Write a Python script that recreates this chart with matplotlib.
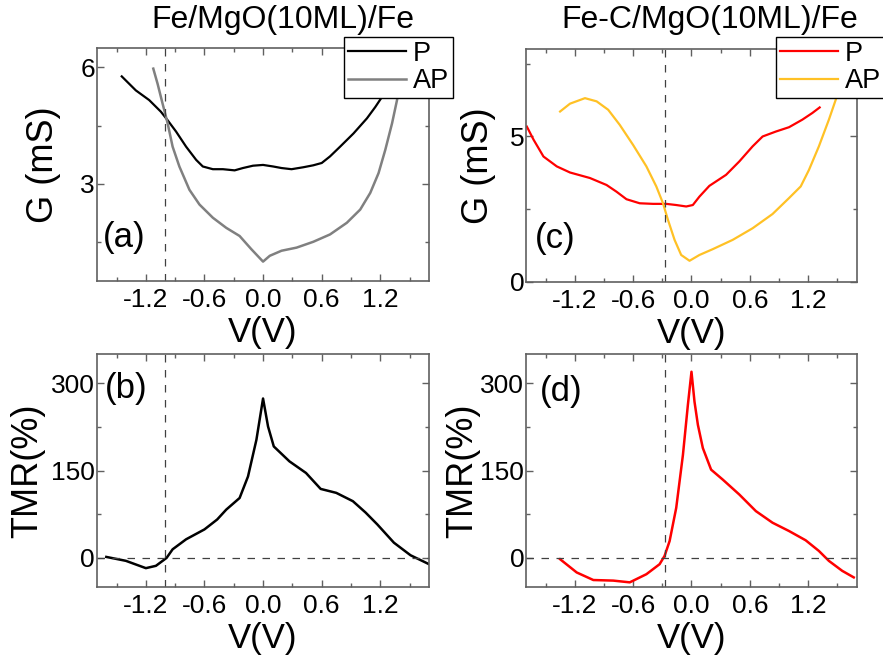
import numpy as np
import matplotlib
matplotlib.use("Agg")
import matplotlib.pyplot as plt

plt.rcParams['font.family'] = ['Liberation Sans', 'DejaVu Sans']
plt.rcParams['axes.unicode_minus'] = False

# (a) Fe/MgO(10ML)/Fe conductance
v_a_p = [-1.447, -1.371, -1.303, -1.166, -1.046, -0.977, -0.891, -0.788, -0.685, -0.617, -0.514,
         -0.411, -0.291, -0.206, -0.103, 0.0, 0.103, 0.189, 0.292, 0.412, 0.514, 0.601, 0.686,
         0.789, 0.926, 1.064, 1.149, 1.218, 1.30, 1.38, 1.46]
g_a_p = [5.77, 5.58, 5.41, 5.16, 4.86, 4.64, 4.35, 3.96, 3.62, 3.45, 3.38,
         3.38, 3.35, 3.41, 3.47, 3.49, 3.45, 3.41, 3.38, 3.43, 3.48, 3.54, 3.71,
         3.96, 4.30, 4.69, 4.98, 5.24, 5.65, 6.1, 6.6]
v_a_ap = [-1.124, -1.080, -1.029, -0.977, -0.926, -0.857, -0.754, -0.651, -0.514, -0.377, -0.240,
          -0.120, 0.0, 0.069, 0.189, 0.343, 0.514, 0.686, 0.858, 0.995, 1.098, 1.183, 1.252,
          1.321, 1.372, 1.42, 1.47]
g_a_ap = [5.97, 5.58, 5.07, 4.56, 3.96, 3.45, 2.85, 2.47, 2.13, 1.87, 1.66,
          1.32, 1.00, 1.15, 1.28, 1.36, 1.51, 1.70, 2.00, 2.34, 2.77, 3.28, 3.88,
          4.56, 5.16, 5.9, 6.7]

# (b) TMR
v_b = [-1.605, -1.405, -1.2, -1.097, -0.988, -0.926, -0.788, -0.6, -0.47, -0.377, -0.24, -0.154,
       -0.068, 0.0, 0.051, 0.11, 0.27, 0.44, 0.59, 0.75, 0.92, 1.05, 1.17, 1.34, 1.51, 1.7]
tmr_b = [1.7, -5, -17.6, -13.6, 0, 14.8, 32, 49, 66, 83, 103, 140,
         203, 274, 226, 191.6, 166, 146, 118.6, 111.8, 97.5, 78, 57.6, 26.2, 4.6, -10.8]

# (c) Fe-C/MgO(10ML)/Fe conductance
v_c_p = [-1.694, -1.625, -1.523, -1.386, -1.250, -1.045, -0.874, -0.772, -0.669, -0.533, -0.395,
         -0.259, -0.157, -0.054, 0.014, 0.082, 0.184, 0.356, 0.492, 0.629, 0.732, 0.868, 1.004,
         1.141, 1.244, 1.319]
g_c_p = [5.34, 4.89, 4.31, 3.97, 3.76, 3.57, 3.33, 3.10, 2.84, 2.70, 2.68,
         2.68, 2.64, 2.59, 2.64, 2.93, 3.30, 3.68, 4.14, 4.66, 5.00, 5.17, 5.32,
         5.58, 5.81, 6.00]
v_c_ap = [-1.352, -1.250, -1.096, -0.976, -0.857, -0.738, -0.601, -0.464, -0.362, -0.293, -0.242,
          -0.174, -0.106, -0.020, 0.082, 0.219, 0.424, 0.629, 0.834, 1.004, 1.124, 1.209, 1.311,
          1.414, 1.490, 1.55, 1.62]
g_c_ap = [5.86, 6.13, 6.32, 6.21, 5.92, 5.40, 4.71, 3.97, 3.28, 2.70, 2.13,
          1.44, 0.92, 0.72, 0.92, 1.12, 1.44, 1.84, 2.33, 2.88, 3.28, 3.85, 4.66,
          5.58, 6.32, 7.2, 8.3]

# (d) TMR
v_d = [-1.352, -1.181, -1.010, -0.805, -0.635, -0.464, -0.328, -0.277, -0.225, -0.157, -0.088,
       -0.037, 0.0, 0.031, 0.066, 0.117, 0.202, 0.322, 0.492, 0.663, 0.834, 1.004, 1.175, 1.311,
       1.414, 1.551, 1.670]
tmr_d = [-2.2, -25, -38, -39, -42, -28, -10.8, 3.4, 29, 86, 177,
         263, 320, 268.6, 228.7, 188.8, 151.7, 134.6, 109, 80.4, 60.5, 46.2, 30.3, 12,
         -5.1, -22.2, -33.5]

v_cross_ab = -1.0
v_cross_cd = -0.27

fig = plt.figure(figsize=(8.83, 6.6), dpi=100)
ax_a = fig.add_axes([0.1099, 0.5742, 0.376, 0.353])
ax_b = fig.add_axes([0.1099, 0.1106, 0.376, 0.3526])
ax_c = fig.add_axes([0.596, 0.5732, 0.3742, 0.352])
ax_d = fig.add_axes([0.596, 0.1106, 0.3742, 0.3526])

spine_col = '#606060'
dash_col = '#404040'

ax_a.plot(v_a_p, g_a_p, color='black', lw=1.6, label='P')
ax_a.plot(v_a_ap, g_a_ap, color='#808080', lw=1.8, label='AP')
ax_b.plot(v_b, tmr_b, color='black', lw=1.8)
ax_c.plot(v_c_p, g_c_p, color='#ff0000', lw=1.6, label='P')
ax_c.plot(v_c_ap, g_c_ap, color='#ffc125', lw=1.6, label='AP')
ax_d.plot(v_d, tmr_d, color='#ff0000', lw=1.8)

for ax, vx in [(ax_a, v_cross_ab), (ax_b, v_cross_ab), (ax_c, v_cross_cd), (ax_d, v_cross_cd)]:
    ax.axvline(vx, color=dash_col, lw=0.9, dashes=(6, 6))
for ax in [ax_b, ax_d]:
    ax.axhline(0, color=dash_col, lw=0.9, dashes=(6, 6))

for ax in [ax_a, ax_b, ax_c, ax_d]:
    ax.set_xlim(-1.7, 1.7)
    ax.set_xticks([-1.2, -0.6, 0.0, 0.6, 1.2])
    ax.set_xticks(np.arange(-1.5, 1.6, 0.6), minor=True)
    ax.set_xticklabels(['-1.2', '-0.6', '0.0', '0.6', '1.2'])
    ax.tick_params(which='both', direction='in', top=True, right=True, color=spine_col,
                   labelsize=19)
    ax.tick_params(which='major', length=5, width=1)
    ax.tick_params(which='minor', length=3, width=1)
    ax.tick_params(axis='x', pad=5)
    ax.tick_params(axis='y', pad=1.5)
    for s in ax.spines.values():
        s.set_color(spine_col)
        s.set_linewidth(1.2)
    ax.set_xlabel('V(V)', fontsize=25, labelpad=3)

ax_a.set_ylim(0.5, 6.5)
ax_a.set_yticks([3, 6])
ax_a.set_yticks([1.5, 4.5], minor=True)
ax_c.set_ylim(0, 8)
ax_c.set_yticks([0, 5])
ax_c.set_yticks([2.5, 7.5], minor=True)
for ax in [ax_b, ax_d]:
    ax.set_ylim(-50, 350)
    ax.set_yticks([0, 150, 300])
    ax.set_yticks([75, 225], minor=True)

ax_a.set_ylabel('G (mS)', fontsize=26, labelpad=14)
ax_c.set_ylabel('G (mS)', fontsize=26, labelpad=10)
ax_b.set_ylabel('TMR(%)', fontsize=26, labelpad=4)
ax_d.set_ylabel('TMR(%)', fontsize=26, labelpad=0)

ax_a.text(0.018, 0.185, '(a)', transform=ax_a.transAxes, fontsize=25, va='center')
ax_b.text(0.024, 0.855, '(b)', transform=ax_b.transAxes, fontsize=25, va='center')
ax_c.text(0.026, 0.187, '(c)', transform=ax_c.transAxes, fontsize=25, va='center')
ax_d.text(0.041, 0.84, '(d)', transform=ax_d.transAxes, fontsize=25, va='center')

fig.text(283 / 883, 0.9576, 'Fe/MgO(10ML)/Fe', fontsize=23, ha='center', va='baseline')
fig.text(710 / 883, 0.9576, 'Fe-C/MgO(10ML)/Fe', fontsize=23, ha='center', va='baseline')

for ax, x0 in [(ax_a, 344 / 883), (ax_c, 776 / 883)]:
    leg = ax.legend(loc='upper left', bbox_to_anchor=(x0, 0.9444), bbox_transform=fig.transFigure,
                    fontsize=19.5, frameon=True, fancybox=False, framealpha=1,
                    edgecolor='black', borderpad=0.15, handlelength=2.15, handletextpad=0.25,
                    labelspacing=0.05, borderaxespad=0)
    leg.get_frame().set_linewidth(1)
    leg.set_zorder(5)

fig.savefig('out.png', dpi=100)
